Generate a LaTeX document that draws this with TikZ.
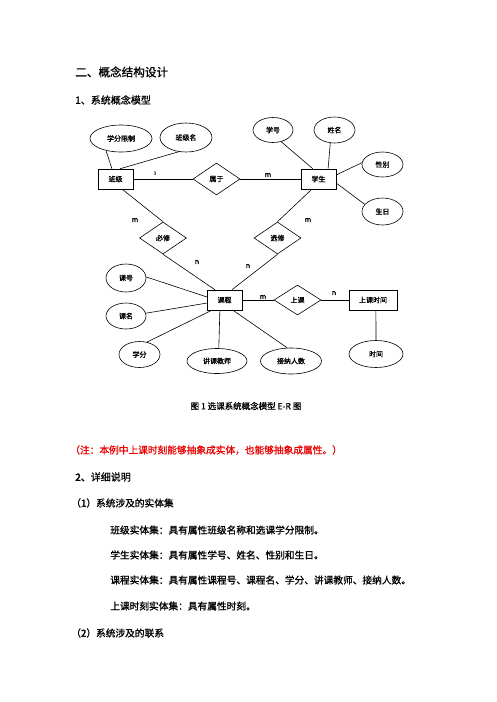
\documentclass[tikz,border=0pt]{standalone}
\usepackage{fontspec}
\newfontfamily\cjk{Noto Sans CJK SC}[FakeBold=1]
\newfontfamily\cjkb{Noto Sans CJK SC}[FakeBold=2.5]
\usetikzlibrary{shapes.geometric,calc}
\definecolor{notered}{RGB}{235,0,0}
\begin{document}
\begin{tikzpicture}[x=1pt,y=-1pt,line width=0.6pt,
  every node/.style={font=\cjk\fontsize{7}{8}\selectfont},
  ent/.style={draw,rectangle,minimum width=35pt,minimum height=20pt,inner sep=0pt},
  attr/.style={draw,ellipse,inner sep=0pt},
  rel/.style={draw,diamond,inner sep=0pt,minimum width=47pt,minimum height=32pt},
  card/.style={inner sep=0pt,font=\cjkb\fontsize{7}{8}\selectfont},
  txt/.style={anchor=west,inner sep=0pt,font=\cjk\fontsize{9.7}{11}\selectfont},
  head/.style={anchor=west,inner sep=0pt,font=\cjk\fontsize{10}{12}\selectfont}]
\fill[white] (0,0) rectangle (496,702);
\useasboundingbox (0,0) rectangle (496,702);

% entities
\node[ent] (bj) at (115.5,179) {班级};
\node[ent] (sy) at (318.5,179) {学生};
\node[ent] (kc) at (224.5,300) {课程};
\node[ent,minimum width=48pt] (sks) at (373,300) {上课时间};
% relations
\node[rel] (sh) at (216.5,179) {属于};
\node[rel] (bx) at (163,238) {必修};
\node[rel] (xx) at (277.5,238) {选修};
\node[rel,minimum height=30pt] (sk) at (297.5,300) {上课};
% attributes
\node[attr,minimum width=62pt,minimum height=27pt] (xfxz) at (121,138.5) {学分限制};
\node[attr,minimum width=52pt,minimum height=29pt] (bjm) at (186,137.5) {班级名};
\node[attr,minimum width=40pt,minimum height=25pt] (xh) at (273,130) {学号};
\node[attr,minimum width=41pt,minimum height=26pt] (xm) at (334.5,130) {姓名};
\node[attr,minimum width=41pt,minimum height=25pt] (xb) at (382.5,164.5) {性别};
\node[attr,minimum width=41pt,minimum height=27pt] (sr) at (382.5,211.5) {生日};
\node[attr,minimum width=40pt,minimum height=28pt] (kh) at (126,278) {课号};
\node[attr,minimum width=40pt,minimum height=26pt] (km) at (126,316) {课名};
\node[attr,minimum width=41pt,minimum height=26pt] (xf) at (139.5,354.5) {学分};
\node[attr,minimum width=60pt,minimum height=25pt] (jk) at (217,361) {讲课教师};
\node[attr,minimum width=61pt,minimum height=26pt] (jn) at (291,361) {接纳人数};
\node[attr,minimum width=54pt,minimum height=27pt] (sj) at (376,354) {时间};

% connectors
\draw (xfxz.219) -- ($(bj.north west)!0.4!(bj.north east)$);
\draw (bjm.243) -- ($(bj.north west)!0.63!(bj.north east)$);
\draw (bj) -- (sh) -- (sy);
\draw ($(bj.south west)!0.69!(bj.south east)$) -- (bx.north);
\draw (bx.south) -- ($(kc.north west)!0.23!(kc.north east)$);
\draw ($(sy.south west)!0.31!(sy.south east)$) -- (xx.north);
\draw (xx.south) -- ($(kc.north west)!0.71!(kc.north east)$);
\draw (xh.305) -- ($(sy.north west)!0.34!(sy.north east)$);
\draw (xm.252) -- ($(sy.north west)!0.77!(sy.north east)$);
\draw ($(sy.north east)!0.3!(sy.south east)$) -- (xb.175);
\draw ($(sy.north east)!0.7!(sy.south east)$) -- (sr.158);
\draw (kh.3) -- ($(kc.north west)!0.35!(kc.south west)$);
\draw (km.8) -- ($(kc.north west)!0.65!(kc.south west)$);
\draw (xf.59) -- ($(kc.south west)!0.14!(kc.south east)$);
\draw ($(kc.south west)!0.37!(kc.south east)$) -- (jk.82);
\draw ($(kc.south west)!0.74!(kc.south east)$) -- (jn.106);
\draw (kc) -- (sk) -- (sks);
\draw ($(sks.south west)!0.56!(sks.south east)$) -- (sj.north);

% cardinalities
\node[card,font=\cjk\fontsize{4}{5}\selectfont] (c1) at (155,173) {1};
\node[card] (c2) at (268,175) {m};
\node[card] (c3) at (135,220) {m};
\node[card] (c4) at (308,220) {m};
\node[card] (c5) at (197,262) {n};
\node[card] (c6) at (248,266) {n};
\node[card] (c7) at (263,297) {m};
\node[card] (c8) at (334,293) {n};

% texts
\node[anchor=west,inner sep=0pt,font=\cjk\fontsize{11.6}{14}\selectfont] (t1) at (75,72) {二、概念结构设计};
\node[head] (t2) at (75,100) {{\cjkb 1}、系统概念模型};
\node[inner sep=0pt,font=\cjk\fontsize{8.5}{10}\selectfont] (cap) at (246,406) {图 1 选课系统概念模型 E-R 图};
\node[txt,text=notered] (note) at (70,450) {（注：本例中上课时刻能够抽象成实体，也能够抽象成属性。）};
\node[head] (t3) at (75,477) {{\cjkb 2}、详细说明};
\node[txt] (t4) at (71,503) {（{\cjkb 1}）系统涉及的实体集};
\node[txt] (t5) at (110,530) {班级实体集：具有属性班级名称和选课学分限制。};
\node[txt] (t6) at (110,555) {学生实体集：具有属性学号、姓名、性别和生日。};
\node[txt] (t7) at (110,580) {课程实体集：具有属性课程号、课程名、学分、讲课教师、接纳人数。};
\node[txt] (t8) at (110,606) {上课时刻实体集：具有属性时刻。};
\node[txt] (t9) at (71,633) {（{\cjkb 2}）系统涉及的联系};
\end{tikzpicture}
\end{document}
